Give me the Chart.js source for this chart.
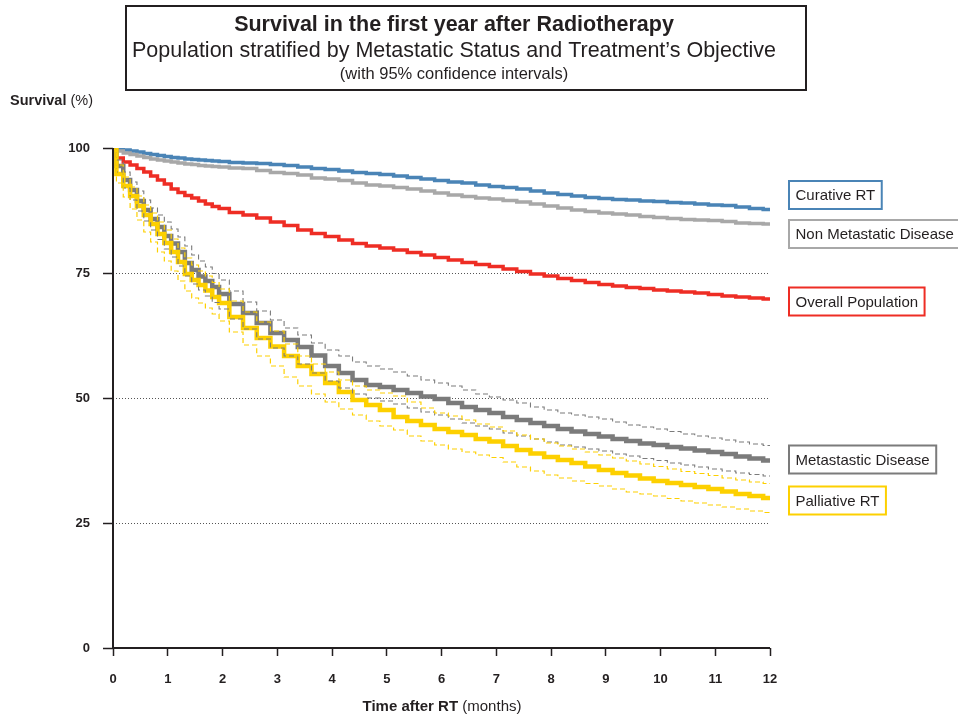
<!DOCTYPE html>
<html>
<head>
<meta charset="utf-8">
<script src="https://cdn.jsdelivr.net/npm/chart.js@4.4.1/dist/chart.umd.min.js"></script>
<style>
  html, body { margin: 0; padding: 0; background: #fff; }
  #wrap { width: 958px; height: 720px; }
</style>
</head>
<body>
<div id="wrap"><canvas id="survChart" width="958" height="720"></canvas></div>
<script>
// time axis (months after RT) - finer in the first two months where curves fall fast
const months = [0, 0.125, 0.25, 0.375, 0.5, 0.625, 0.75, 0.875, 1, 1.125, 1.25, 1.375, 1.5, 1.625, 1.75, 1.875, 2, 2.25, 2.5, 2.75, 3, 3.25, 3.5, 3.75, 4, 4.25, 4.5, 4.75, 5, 5.25, 5.5, 5.75, 6, 6.25, 6.5, 6.75, 7, 7.25, 7.5, 7.75, 8, 8.25, 8.5, 8.75, 9, 9.25, 9.5, 9.75, 10, 10.25, 10.5, 10.75, 11, 11.25, 11.5, 11.75, 12];
const xTicks = [0, 1, 2, 3, 4, 5, 6, 7, 8, 9, 10, 11, 12];
const yTicks = [0, 25, 50, 75, 100];

// survival (%)
const curativeRT = [100, 99.8, 99.6, 99.4, 99.2, 98.9, 98.7, 98.5, 98.3, 98.1, 98.0, 97.8, 97.7, 97.6, 97.5, 97.4, 97.3, 97.1, 97.0, 96.9, 96.7, 96.5, 96.2, 95.9, 95.7, 95.4, 95.1, 94.9, 94.7, 94.4, 94.1, 93.8, 93.5, 93.2, 93.0, 92.6, 92.3, 92.1, 91.8, 91.4, 91.0, 90.7, 90.4, 90.1, 89.9, 89.7, 89.6, 89.4, 89.3, 89.1, 89.0, 88.8, 88.6, 88.5, 88.2, 87.9, 87.7];
const nonMetastatic = [100, 99.4, 99.0, 98.7, 98.4, 98.1, 97.8, 97.6, 97.4, 97.2, 97.0, 96.8, 96.7, 96.5, 96.4, 96.3, 96.2, 96.0, 95.9, 95.5, 95.1, 94.9, 94.6, 94.0, 93.8, 93.5, 93.0, 92.6, 92.4, 92.1, 91.8, 91.4, 91.0, 90.6, 90.3, 90.0, 89.8, 89.5, 89.2, 88.8, 88.4, 88.0, 87.6, 87.3, 87.0, 86.8, 86.6, 86.3, 86.1, 85.9, 85.7, 85.6, 85.5, 85.3, 85.0, 84.9, 84.8];
const overall = [100, 98.0, 97.2, 96.6, 95.9, 95.2, 94.4, 93.6, 92.8, 91.8, 91.1, 90.5, 90.0, 89.4, 88.8, 88.3, 87.9, 87.1, 86.6, 86.0, 85.2, 84.5, 83.6, 82.9, 82.3, 81.6, 80.9, 80.4, 80.0, 79.6, 79.1, 78.6, 78.1, 77.6, 77.1, 76.7, 76.3, 75.8, 75.3, 74.8, 74.4, 73.9, 73.5, 73.1, 72.7, 72.4, 72.1, 71.9, 71.6, 71.4, 71.2, 71.0, 70.7, 70.4, 70.2, 70.0, 69.8];
const metastatic = [100, 96.4, 93.6, 91.6, 89.4, 87.6, 85.8, 84.2, 82.4, 80.9, 79.2, 77.0, 75.6, 74.3, 73.4, 72.2, 70.8, 68.8, 67.0, 65.0, 63.0, 61.6, 60.2, 58.5, 56.4, 55.0, 53.6, 52.6, 52.2, 51.6, 51.0, 50.3, 49.8, 49.0, 48.2, 47.6, 47.0, 46.2, 45.6, 45.0, 44.4, 43.8, 43.3, 42.8, 42.3, 41.8, 41.4, 40.9, 40.6, 40.2, 39.9, 39.5, 39.2, 38.8, 38.3, 37.9, 37.5];
const metastaticHigh = [100, 97.6, 95.2, 93.2, 91.4, 89.6, 88.0, 86.6, 85.2, 83.8, 82.2, 80.4, 78.6, 77.4, 76.2, 74.9, 73.6, 71.4, 69.2, 67.4, 65.6, 64.0, 62.6, 61.0, 59.6, 58.4, 57.2, 56.4, 55.8, 55.2, 54.4, 53.6, 53.0, 52.4, 51.6, 50.8, 50.2, 49.6, 49.0, 48.2, 47.6, 47.0, 46.6, 46.2, 45.8, 45.2, 44.6, 44.2, 43.8, 43.3, 42.8, 42.4, 42.0, 41.6, 41.2, 40.8, 40.5];
const metastaticLow = [100, 95.2, 92.0, 89.6, 87.4, 85.4, 83.6, 81.7, 79.8, 78.2, 76.4, 74.4, 72.8, 71.6, 70.4, 69.1, 67.8, 65.8, 63.8, 61.8, 60.0, 58.4, 56.8, 55.0, 53.4, 52.0, 50.8, 50.0, 49.4, 48.8, 48.0, 47.2, 46.6, 45.8, 45.0, 44.4, 43.8, 43.0, 42.4, 41.8, 41.2, 40.6, 40.2, 39.8, 39.4, 38.8, 38.4, 37.9, 37.5, 37.0, 36.6, 36.2, 35.8, 35.4, 35.0, 34.7, 34.4];
const palliative = [100, 94.8, 92.4, 90.4, 88.4, 86.6, 84.8, 82.8, 81.0, 79.2, 77.2, 74.8, 73.6, 72.6, 71.5, 70.2, 69.0, 66.2, 64.0, 62.0, 60.3, 58.4, 56.4, 54.8, 53.0, 51.2, 49.6, 48.6, 47.6, 46.2, 45.4, 44.6, 43.8, 43.2, 42.6, 41.8, 41.3, 40.4, 39.6, 38.9, 38.2, 37.6, 37.0, 36.3, 35.6, 35.0, 34.5, 33.9, 33.4, 33.0, 32.6, 32.2, 31.8, 31.3, 30.8, 30.4, 30.0];
const palliativeHigh = [100, 96.6, 94.2, 92.2, 90.4, 88.6, 87.0, 85.2, 83.6, 81.8, 80.0, 78.0, 76.6, 75.4, 74.4, 73.1, 71.8, 69.4, 67.2, 65.2, 63.4, 60.8, 58.4, 56.8, 55.2, 53.6, 52.4, 51.6, 51.0, 50.4, 49.2, 48.0, 47.0, 46.4, 45.6, 44.8, 44.2, 43.4, 42.6, 41.8, 41.0, 40.4, 39.8, 39.2, 38.6, 38.0, 37.4, 36.8, 36.3, 35.8, 35.3, 34.9, 34.5, 34.0, 33.6, 33.2, 32.9];
const palliativeLow = [100, 93.0, 90.2, 87.8, 85.6, 83.2, 81.2, 79.2, 77.4, 75.4, 73.4, 71.4, 70.0, 69.0, 68.0, 66.8, 65.4, 63.2, 60.6, 58.4, 56.4, 54.2, 52.4, 50.8, 49.2, 47.8, 46.6, 45.4, 44.4, 43.6, 42.4, 41.4, 40.6, 39.8, 39.2, 38.6, 38.1, 37.2, 36.2, 35.4, 34.6, 34.0, 33.4, 32.9, 32.4, 31.8, 31.2, 30.8, 30.4, 29.9, 29.4, 29.0, 28.6, 28.2, 27.8, 27.4, 27.1];

const seriesNames = ['Curative RT', 'Non Metastatic Disease', 'Overall Population', 'Metastastic Disease', 'Palliative RT'];

const FONT = '"Liberation Sans", Arial, sans-serif';
const INK = '#231f20';
const C_BLUE = '#4a84b6', C_LGRAY = '#a8a8a8', C_RED = '#ee2d24', C_DGRAY = '#7b7b7b', C_YEL = '#fdd000';

const pts = arr => months.map((m, i) => ({ x: m, y: arr[i] }));

function curve(label, arr, color, width, dashed) {
    return {
        label, data: pts(arr), borderColor: color, borderWidth: width,
        borderDash: dashed ? [5, 3] : [], stepped: 'middle',
        pointRadius: 0, fill: false
    };
}

// label boxes at the right of the curves (y = box centre in px)
const boxes = [
    { text: seriesNames[0], color: C_BLUE, y: 195 },
    { text: seriesNames[1], color: C_LGRAY, y: 234 },
    { text: seriesNames[2], color: C_RED, y: 301.5 },
    { text: seriesNames[3], color: C_DGRAY, y: 459.5 },
    { text: seriesNames[4], color: C_YEL, y: 500.5 }
];

function drawParts(ctx, parts, x, y, align) {
    let total = 0;
    parts.forEach(p => { ctx.font = p.font; p.w = ctx.measureText(p.t).width; total += p.w; });
    let cx = align === 'center' ? x - total / 2 : x;
    parts.forEach(p => { ctx.font = p.font; ctx.fillText(p.t, cx, y); cx += p.w; });
}

const decor = {
    id: 'decor',
    beforeDatasetsDraw(chart) {
        // dotted reference lines at 25/50/75
        const { ctx, chartArea: a, scales: { y } } = chart;
        ctx.save();
        ctx.strokeStyle = '#555'; ctx.lineWidth = 1; ctx.setLineDash([1, 2]);
        [25, 50, 75].forEach(v => {
            const py = Math.round(y.getPixelForValue(v)) + 0.5;
            ctx.beginPath(); ctx.moveTo(a.left, py); ctx.lineTo(a.right, py); ctx.stroke();
        });
        ctx.restore();
    },
    afterDraw(chart) {
        const { ctx, chartArea: a } = chart;
        ctx.save();
        // axes
        ctx.strokeStyle = INK; ctx.lineWidth = 2;
        ctx.beginPath(); ctx.moveTo(a.left, a.top); ctx.lineTo(a.left, a.bottom); ctx.lineTo(a.right, a.bottom); ctx.stroke();

        // title box
        ctx.strokeRect(126, 6, 680, 84);
        ctx.fillStyle = INK; ctx.textBaseline = 'middle'; ctx.textAlign = 'left';
        drawParts(ctx, [{ t: 'Survival in the first year after Radiotherapy', font: 'bold 21.5px ' + FONT }], 454, 25, 'center');
        drawParts(ctx, [{ t: 'Population stratified by Metastatic Status and Treatment\u2019s Objective', font: '21.5px ' + FONT }], 454, 51, 'center');
        drawParts(ctx, [{ t: '(with 95% confidence intervals)', font: '16.5px ' + FONT }], 454, 74, 'center');

        // axis titles
        drawParts(ctx, [{ t: 'Survival', font: 'bold 14.5px ' + FONT }, { t: ' (%)', font: '14.5px ' + FONT }], 10, 101, 'left');
        drawParts(ctx, [{ t: 'Time after RT', font: 'bold 15px ' + FONT }, { t: ' (months)', font: '15px ' + FONT }], 442, 707, 'center');

        // series label boxes
        ctx.font = '15px ' + FONT;
        boxes.forEach(b => {
            const w = ctx.measureText(b.text).width + 13;
            ctx.fillStyle = '#fff';
            ctx.fillRect(789, b.y - 14, w, 28);
            ctx.strokeStyle = b.color; ctx.lineWidth = 2;
            ctx.strokeRect(789, b.y - 14, w, 28);
            ctx.fillStyle = INK;
            ctx.fillText(b.text, 795.5, b.y + 1);
        });
        ctx.restore();
    }
};

new Chart(document.getElementById('survChart'), {
    type: 'line',
    data: {
        datasets: [
            curve('Palliative RT upper', palliativeHigh, C_YEL, 1.2, true),
            curve('Palliative RT lower', palliativeLow, C_YEL, 1.2, true),
            curve('Metastatic upper', metastaticHigh, C_DGRAY, 1.1, true),
            curve('Metastatic lower', metastaticLow, C_DGRAY, 1.1, true),
            curve(seriesNames[4], palliative, C_YEL, 4.5, false),
            curve(seriesNames[3], metastatic, C_DGRAY, 4.5, false),
            curve(seriesNames[1], nonMetastatic, C_LGRAY, 3.5, false),
            curve(seriesNames[0], curativeRT, C_BLUE, 3.5, false),
            curve(seriesNames[2], overall, C_RED, 3.5, false)
        ]
    },
    plugins: [decor],
    options: {
        responsive: false,
        animation: false,
        layout: { padding: { left: 0, right: 188, top: 148, bottom: 0 } },
        plugins: { legend: { display: false }, tooltip: { enabled: false }, title: { display: false } },
        scales: {
            x: {
                type: 'linear', min: 0, max: 12,
                afterFit(s) { s.height = 72; },
                afterBuildTicks(s) { s.ticks = xTicks.map(v => ({ value: v })); },
                border: { display: false },
                grid: { drawOnChartArea: false, drawTicks: true, tickLength: 8, tickColor: INK, tickWidth: 1.5 },
                ticks: { color: INK, padding: 16, font: { family: FONT, size: 13, weight: 'bold' } }
            },
            y: {
                min: 0, max: 100,
                afterFit(s) { s.width = 113; },
                afterBuildTicks(s) { s.ticks = yTicks.map(v => ({ value: v })); },
                border: { display: false },
                grid: { drawOnChartArea: false, drawTicks: true, tickLength: 10, tickColor: INK, tickWidth: 1.5 },
                ticks: { color: INK, padding: 13, font: { family: FONT, size: 13, weight: 'bold' } }
            }
        }
    }
});
</script>
</body>
</html>
